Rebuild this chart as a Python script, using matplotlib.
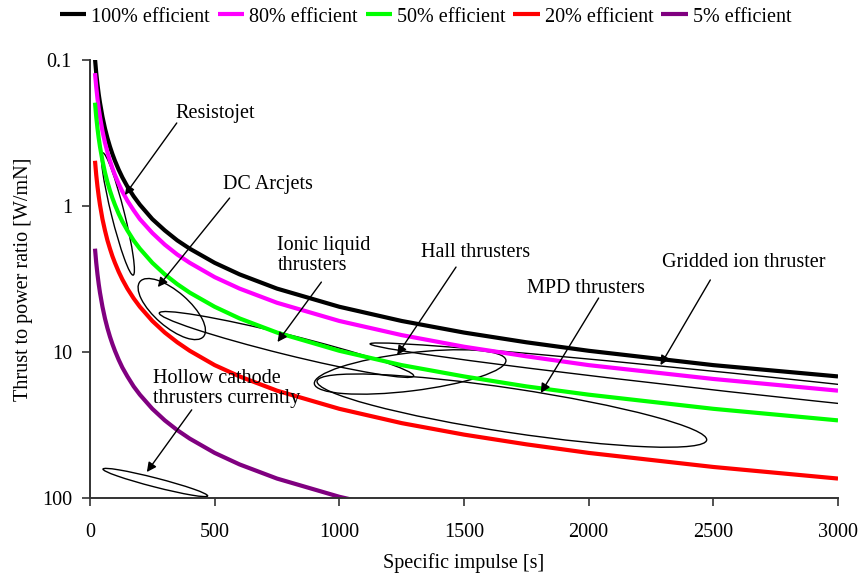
import matplotlib
matplotlib.use("Agg")
import matplotlib.pyplot as plt
from matplotlib.patches import Ellipse
from matplotlib.transforms import ScaledTranslation

plt.rcParams["font.family"] = ["Liberation Serif", "DejaVu Serif"]
plt.rcParams["font.size"] = 14.5

# Specific impulse samples [s]
isp = [20, 25, 30, 35, 40, 50, 60, 70, 80, 90, 100, 115, 130, 150, 175, 200,
       250, 300, 350, 400, 500, 600, 750, 1000, 1250, 1500, 1750, 2000, 2500, 3000]

# Power-to-thrust ratio [W/mN] for each efficiency
eff_100 = [0.098, 0.123, 0.147, 0.172, 0.196, 0.245, 0.294, 0.343, 0.392, 0.441,
           0.49, 0.564, 0.638, 0.736, 0.858, 0.98, 1.23, 1.47, 1.72, 1.96,
           2.45, 2.94, 3.68, 4.9, 6.13, 7.36, 8.58, 9.81, 12.3, 14.7]
eff_80 = [0.123, 0.153, 0.184, 0.215, 0.245, 0.307, 0.368, 0.429, 0.49, 0.552,
          0.613, 0.705, 0.797, 0.92, 1.07, 1.23, 1.53, 1.84, 2.15, 2.45,
          3.07, 3.68, 4.6, 6.13, 7.66, 9.2, 10.7, 12.3, 15.3, 18.4]
eff_50 = [0.196, 0.245, 0.294, 0.343, 0.392, 0.49, 0.589, 0.687, 0.785, 0.883,
          0.981, 1.13, 1.28, 1.47, 1.72, 1.96, 2.45, 2.94, 3.43, 3.92,
          4.9, 5.89, 7.36, 9.81, 12.3, 14.7, 17.2, 19.6, 24.5, 29.4]
eff_20 = [0.49, 0.613, 0.736, 0.858, 0.981, 1.23, 1.47, 1.72, 1.96, 2.21,
          2.45, 2.82, 3.19, 3.68, 4.29, 4.9, 6.13, 7.36, 8.58, 9.81,
          12.3, 14.7, 18.4, 24.5, 30.7, 36.8, 42.9, 49.1, 61.3, 73.6]
eff_5 = [1.96, 2.45, 2.94, 3.43, 3.92, 4.9, 5.89, 6.87, 7.85, 8.83,
         9.81, 11.3, 12.8, 14.7, 17.2, 19.6, 24.5, 29.4, 34.3, 39.2,
         49.1, 58.9, 73.6, 98.1, 123, 147, 172, 196, 245, 294]

series_labels = ["100% efficient", "80% efficient", "50% efficient",
                 "20% efficient", "5% efficient"]
series_values = [eff_100, eff_80, eff_50, eff_20, eff_5]
series_colors = ["#000000", "#ff00ff", "#00ff00", "#ff0000", "#800080"]

x_ticks = [0, 500, 1000, 1500, 2000, 2500, 3000]
y_ticks = [0.1, 1, 10, 100]
y_tick_labels = ["0.1", "1", "10", "100"]

# Thruster families: name, label anchor, arrow tail, arrow head, alignment
regions = [
    ("Resistojet", (504, 0.234), (348, 0.270), (140, 0.841), "center"),
    ("DC Arcjets", (712, 0.718), (560, 0.882), (272, 3.59), "center"),
    ("Ionic liquid\nthrusters", (752, 2.18), (928, 3.32), (752, 8.54), "left"),
    ("Hall thrusters", (1548, 2.07), (1468, 2.62), (1232, 10.5), "center"),
    ("MPD thrusters", (1988, 3.70), (2040, 4.27), (1808, 19.1), "center"),
    ("Gridded ion thruster", (2620, 2.42), (2488, 3.21), (2288, 12.3), "center"),
    ("Hollow cathode\nthrusters currently", (252, 17.8), (408, 24.9), (228, 66.4), "left"),
]

# Operating envelopes: centre (Isp, ratio), length/width [in], angle [deg]
envelopes = [
    ((112, 1.134), 1.26, 0.13, 104),
    ((328, 5.08), 0.84, 0.35, -41),
    ((788, 8.88), 2.62, 0.20, -13.9),
    ((1284, 13.7), 1.93, 0.38, 7),
    ((2918, 18.7), 9.0, 0.19, -6.1),
    ((1692, 25.2), 3.94, 0.44, -8.6),
    ((262, 78.3), 1.08, 0.09, -14.4),
]

fig = plt.figure(figsize=(8.62, 5.75), dpi=100)
ax = fig.add_axes([90 / 862, 1 - 498 / 575, 748 / 862, 438 / 575])

for vals, lab, col in zip(series_values, series_labels, series_colors):
    ax.plot(isp, vals, color=col, lw=3.0, label=lab, solid_capstyle="butt",
            solid_joinstyle="round")

ax.set_yscale("log")
ax.set_xlim(0, 3000)
ax.set_ylim(100, 0.1)
ax.set_xticks(x_ticks)
ax.set_xticklabels([str(v) for v in x_ticks])
ax.set_yticks(y_ticks)
ax.set_yticklabels(y_tick_labels)
ax.minorticks_off()
ax.tick_params(axis="both", direction="out", length=6, width=1.2, color="#333333")
ax.tick_params(axis="x", pad=12)
ax.tick_params(axis="y", pad=7)
for side in ("top", "right"):
    ax.spines[side].set_visible(False)
for side in ("left", "bottom"):
    ax.spines[side].set_linewidth(1.4)
    ax.spines[side].set_color("#333333")

ax.set_xlabel("Specific impulse [s]", labelpad=8)
ax.set_ylabel("Thrust to power ratio [W/mN]", labelpad=6)

for (cx, cy), length, width, angle in envelopes:
    tr = fig.dpi_scale_trans + ScaledTranslation(cx, cy, ax.transData)
    ax.add_patch(Ellipse((0, 0), length, width, angle=angle, transform=tr,
                         fill=False, ec="black", lw=1.0))

for text, txy, tail, head, ha in regions:
    ax.text(txy[0], txy[1], text, ha=ha, va="center", linespacing=1.1)
    ax.annotate("", xy=head, xytext=tail,
                arrowprops=dict(arrowstyle="-|>", color="black", lw=1.0,
                                mutation_scale=14, shrinkA=0, shrinkB=0))

fig.legend(loc="center left", bbox_to_anchor=(60 / 862, 1 - 17 / 575), ncol=5,
           frameon=False, handlelength=1.3, handletextpad=0.25,
           columnspacing=0.4, borderpad=0, borderaxespad=0)

fig.savefig("out.png", dpi=100)
